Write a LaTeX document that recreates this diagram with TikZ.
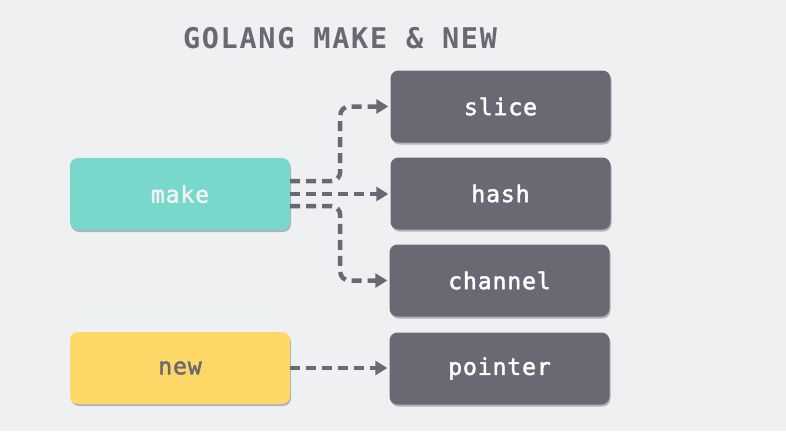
\documentclass[tikz,border=0pt]{standalone}
\usepackage{fontspec}
\newfontfamily\monofont{DejaVu Sans Mono}
\usetikzlibrary{shadows,arrows.meta}
\definecolor{bg}{HTML}{EFF0F2}
\definecolor{darkbox}{HTML}{6B6874}
\definecolor{teal}{HTML}{78D8CC}
\definecolor{yel}{HTML}{FDD867}
\definecolor{lighttext}{HTML}{F2F2F4}
\tikzset{
  box/.style={rounded corners=8pt, minimum width=220pt, minimum height=72pt,
    inner sep=0pt, font=\monofont\fontsize{23}{26}\selectfont\addfontfeatures{LetterSpace=4,FakeBold=2},
    drop shadow={shadow xshift=1pt, shadow yshift=-2pt, opacity=0.25, fill=black}},
  darkstep/.style={box, fill=darkbox, text=white},
  conn/.style={draw=darkbox, line width=4.5pt, dash pattern=on 10pt off 6pt,
    -{Triangle[length=12pt,width=14pt]}, shorten >=2pt, rounded corners=9pt}
}
\begin{document}
\begin{tikzpicture}[x=1pt,y=-1pt]
\fill[bg] (0,0) rectangle (786,431);
\useasboundingbox (0,0) rectangle (786,431);
\node[text=darkbox, font=\monofont\bfseries\fontsize{28.5}{32}\selectfont\addfontfeatures{LetterSpace=6}] (title) at (340,38) {GOLANG MAKE \& NEW};
\node[box, fill=teal, text=lighttext] (make) at (180,194) {make};
\node[box, fill=yel, text=darkbox] (new) at (180,368) {new};
\node[darkstep] (slice) at (500.5,106.5) {slice};
\node[darkstep] (hash) at (500.5,193.5) {hash};
\node[darkstep] (channel) at (499.5,280.5) {channel};
\node[darkstep] (pointer) at (499.5,368.5) {pointer};
\draw[conn] ([yshift=13pt]make.east) -- ++(50,0) |- (slice.west);
\draw[conn] (make.east) -- (hash.west |- make.east);
\draw[conn] ([yshift=-12pt]make.east) -- ++(50,0) |- (channel.west);
\draw[conn] (new.east) -- (pointer.west |- new.east);
\end{tikzpicture}
\end{document}
